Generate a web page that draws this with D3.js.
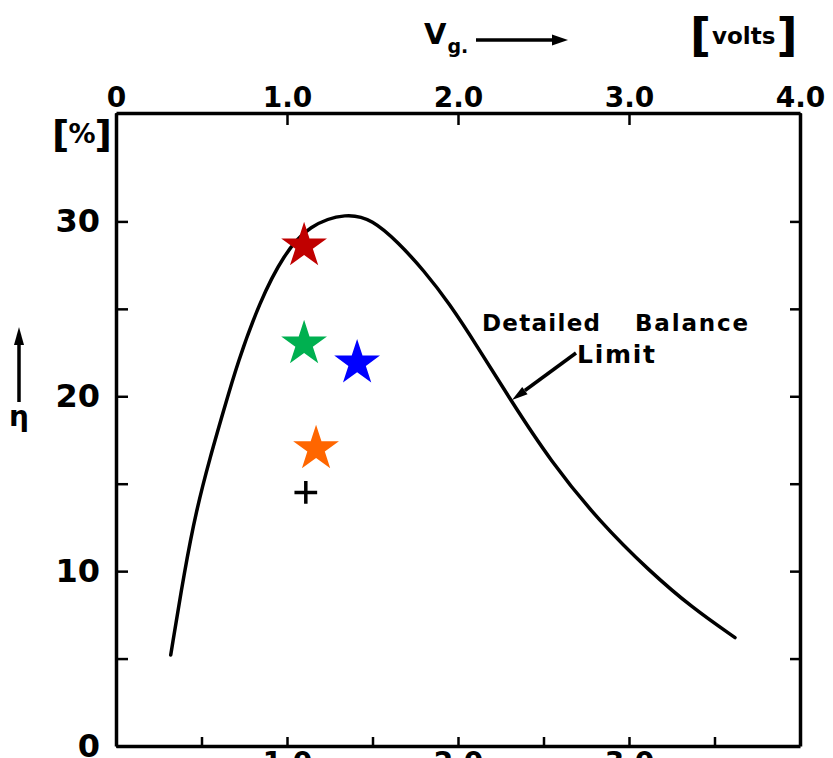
<!DOCTYPE html>
<html>
<head>
<meta charset="utf-8">
<script src="https://cdn.jsdelivr.net/npm/d3@7"></script>
<style>
  html, body { margin: 0; padding: 0; background: #fff; }
  svg { display: block; }
  text { font-family: "DejaVu Sans", sans-serif; fill: #000; }
</style>
</head>
<body>
<div id="canvas"></div>
<script>
// Detailed balance limit (Vg in volts, efficiency in %)
const limitV   = [0.32, 0.40, 0.47, 0.55, 0.63, 0.71, 0.84, 0.98, 1.13, 1.35, 1.50, 1.65, 1.80, 1.95, 2.11, 2.30, 2.54, 2.83, 3.12, 3.37, 3.62];
const limitEff = [5.2, 10.0, 13.5, 16.5, 19.2, 21.9, 25.4, 28.1, 29.8, 30.5, 30.1, 28.8, 27.2, 25.3, 22.9, 19.9, 16.3, 12.8, 10.0, 7.9, 6.2];

// star markers
const starV      = [1.10, 1.10, 1.41, 1.17];
const starEff    = [28.6, 23.0, 21.9, 17.0];
const starColors = ["#c00000", "#00b050", "#0000ff", "#ff6600"];

// the single "+" point
const plusV = [1.11];
const plusEff = [14.5];

const topTicks = [0, 1, 2, 3, 4];
const bottomTicks = [0.5, 1, 1.5, 2, 2.5, 3, 3.5];
const leftTicks = [0, 5, 10, 15, 20, 25, 30];
const rightTicks = [5, 10, 15, 20, 25, 30];

const width = 833;
const height = 758;
const margin = { top: 113, left: 116, bottom: 12, right: 33 };

const svg = d3.select("#canvas").append("svg")
    .attr("width", width)
    .attr("height", height);

const x = d3.scaleLinear().domain([0, 4]).range([margin.left, width - margin.right]);
const y = d3.scaleLinear().domain([0, 36.2]).range([height - margin.bottom, margin.top]);

function styleAxis(g, size) {
    g.selectAll(".domain").attr("stroke", "#000").attr("stroke-width", 3.5);
    g.selectAll(".tick line").attr("stroke", "#000").attr("stroke-width", 2.5);
    g.selectAll(".tick text")
        .attr("fill", "#000")
        .style("font-family", "DejaVu Sans, sans-serif")
        .style("font-weight", "bold")
        .style("font-size", size + "px");
}

// top axis
svg.append("g")
    .attr("transform", `translate(0,${margin.top})`)
    .call(d3.axisTop(x).tickValues(topTicks).tickSizeInner(-12).tickSizeOuter(0).tickPadding(6)
        .tickFormat(d => d === 0 ? "0" : d3.format(".1f")(d)))
    .call(g => styleAxis(g, 28));

// bottom axis (labels fall mostly off the picture, as in the scan)
svg.append("g")
    .attr("transform", `translate(0,${height - margin.bottom})`)
    .call(d3.axisBottom(x).tickValues(bottomTicks).tickSizeInner(-9).tickSizeOuter(0).tickPadding(6)
        .tickFormat(d => Number.isInteger(d) ? d3.format(".1f")(d) : ""))
    .call(g => styleAxis(g, 28));

// left axis
svg.append("g")
    .attr("transform", `translate(${margin.left},0)`)
    .call(d3.axisLeft(y).tickValues(leftTicks).tickSizeInner(-12).tickSizeOuter(0).tickPadding(16)
        .tickFormat(d => d % 10 === 0 ? d : ""))
    .call(g => styleAxis(g, 32));

// right axis
svg.append("g")
    .attr("transform", `translate(${width - margin.right},0)`)
    .call(d3.axisRight(y).tickValues(rightTicks).tickSizeInner(-10).tickSizeOuter(0).tickFormat(""))
    .call(g => styleAxis(g, 20));

// curve
const limitData = limitV.map((v, i) => ({ v: v, e: limitEff[i] }));
const line = d3.line()
    .x(d => x(d.v))
    .y(d => y(d.e))
    .curve(d3.curveBasis);

svg.append("path")
    .datum(limitData)
    .attr("fill", "none")
    .attr("stroke", "#000")
    .attr("stroke-width", 3.5)
    .attr("stroke-linecap", "round")
    .attr("d", line);

// stars
const starData = starV.map((v, i) => ({ v: v, e: starEff[i], c: starColors[i] }));
svg.selectAll(".star").data(starData).enter().append("path")
    .attr("class", "star")
    .attr("transform", d => `translate(${x(d.v)},${y(d.e)})`)
    .attr("d", d3.symbol(d3.symbolStar, 650))
    .attr("fill", d => d.c);

// plus marker
svg.selectAll(".plus").data(plusV.map((v, i) => ({ v: v, e: plusEff[i] }))).enter().append("path")
    .attr("class", "plus")
    .attr("transform", d => `translate(${x(d.v)},${y(d.e)})`)
    .attr("d", d3.symbol(d3.symbolPlus, 170))
    .attr("fill", "none")
    .attr("stroke", "#000")
    .attr("stroke-width", 3.5);

// arrow helper
function arrow(x1, y1, x2, y2, head, half) {
    const a = Math.atan2(y2 - y1, x2 - x1);
    const bx = x2 - head * Math.cos(a), by = y2 - head * Math.sin(a);
    svg.append("line")
        .attr("x1", x1).attr("y1", y1).attr("x2", bx).attr("y2", by)
        .attr("stroke", "#000").attr("stroke-width", 3.5);
    const px = -Math.sin(a) * half, py = Math.cos(a) * half;
    svg.append("path")
        .attr("d", `M${x2},${y2}L${bx + px},${by + py}L${bx - px},${by - py}Z`)
        .attr("fill", "#000");
}

// top title
const title = svg.append("text").attr("x", 424).attr("y", 44).style("font-weight", "bold");
title.append("tspan").style("font-size", "29px").text("V");
title.append("tspan").attr("dy", 9).attr("dx", 1).style("font-size", "19px").text("g.");
arrow(476, 40, 568, 40, 16, 5.5);

const unit = svg.append("text").attr("x", 690).attr("y", 51).style("font-weight", "bold");
unit.append("tspan").style("font-size", "46px").text("[");
unit.append("tspan").attr("dy", -7).attr("dx", 1).style("font-size", "23px").text("volts");
unit.append("tspan").attr("dy", 7).attr("dx", 1).style("font-size", "46px").text("]");

// y label
const pct = svg.append("text").attr("x", 52).attr("y", 147).style("font-weight", "bold");
pct.append("tspan").style("font-size", "38px").text("[");
pct.append("tspan").attr("dy", -4).attr("dx", -1).style("font-size", "27px").text("%");
pct.append("tspan").attr("dy", 4).attr("dx", -1).style("font-size", "38px").text("]");

arrow(19, 402, 19, 327, 18, 5);
svg.append("text").attr("x", 19).attr("y", 426).attr("text-anchor", "middle")
    .style("font-size", "28px").style("font-weight", "bold").text("η");

// annotation
svg.append("text").attr("x", 482).attr("y", 331)
    .attr("textLength", 118).attr("lengthAdjust", "spacing")
    .style("font-size", "23px").style("font-weight", "bold").text("Detailed");
svg.append("text").attr("x", 635).attr("y", 331)
    .attr("textLength", 113).attr("lengthAdjust", "spacing")
    .style("font-size", "23px").style("font-weight", "bold").text("Balance");
svg.append("text").attr("x", 577).attr("y", 363)
    .attr("textLength", 78).attr("lengthAdjust", "spacing")
    .style("font-size", "25px").style("font-weight", "bold").text("Limit");
arrow(576, 353, 512, 400, 16, 4.5);
</script>
</body>
</html>
